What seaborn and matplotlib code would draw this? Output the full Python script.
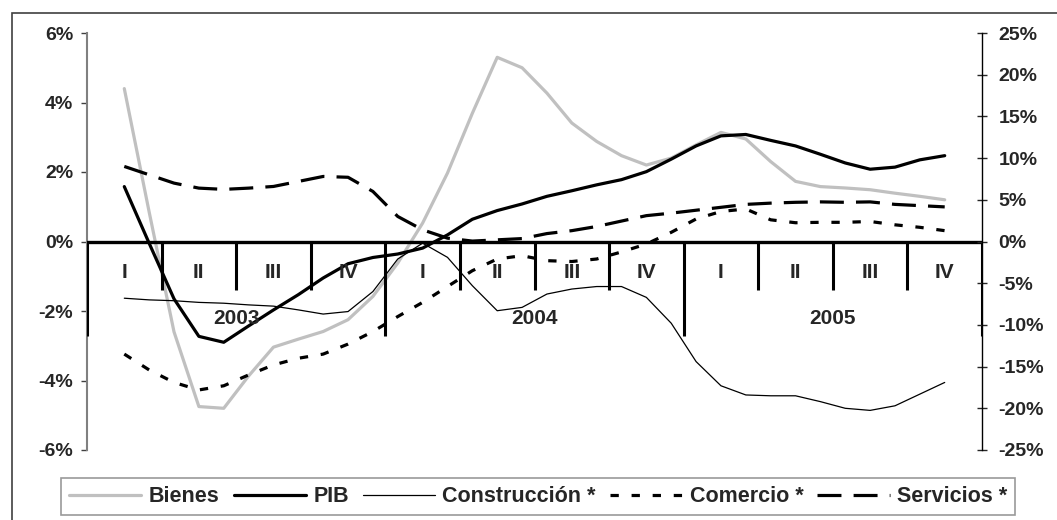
import numpy as np
import pandas as pd
import seaborn as sns
import matplotlib.pyplot as plt
from matplotlib.patches import Rectangle
from matplotlib.ticker import FuncFormatter

sns.set_style("white")
plt.rcParams['font.family'] = ['Liberation Sans', 'DejaVu Sans']
plt.rcParams['font.weight'] = 'bold'

# categories
trimestres = ["I", "II", "III", "IV"] * 3
anios = ["2003", "2004", "2005"]

# monthly values, left axis (%)
bienes = [4.4, 0.85, -2.6, -4.75, -4.8, -3.87, -3.04, -2.81, -2.59, -2.25, -1.58, -0.62,
          0.53, 1.97, 3.69, 5.3, 5.0, 4.27, 3.41, 2.88, 2.47, 2.2, 2.4, 2.78,
          3.14, 2.95, 2.3, 1.73, 1.58, 1.54, 1.49, 1.39, 1.3, 1.2]
pib = [1.58, -0.05, -1.65, -2.73, -2.9, -2.43, -1.97, -1.53, -1.05, -0.64, -0.46, -0.36,
       -0.19, 0.19, 0.64, 0.89, 1.08, 1.3, 1.46, 1.63, 1.78, 2.01, 2.37, 2.75,
       3.04, 3.08, 2.91, 2.75, 2.51, 2.26, 2.08, 2.14, 2.35, 2.47]

# monthly values, right axis (%)
construccion = [-6.8, -7.0, -7.1, -7.3, -7.4, -7.6, -7.75, -8.2, -8.7, -8.4, -6.0, -2.1,
                -0.2, -1.9, -5.3, -8.3, -7.9, -6.3, -5.7, -5.4, -5.4, -6.7, -9.8, -14.4,
                -17.3, -18.4, -18.5, -18.5, -19.2, -20.0, -20.25, -19.7, -18.3, -16.9]
comercio = [-13.5, -15.4, -16.9, -17.8, -17.3, -16.0, -14.8, -14.0, -13.5, -12.3, -10.8, -9.0,
            -7.3, -5.4, -3.5, -2.1, -1.7, -2.3, -2.4, -2.1, -1.25, -0.3, 1.1, 2.7,
            3.6, 3.9, 2.6, 2.25, 2.3, 2.3, 2.4, 2.0, 1.7, 1.3]
servicios = [9.0, 8.0, 7.0, 6.4, 6.25, 6.4, 6.6, 7.2, 7.8, 7.7, 6.0, 3.0,
             1.4, 0.4, 0.05, 0.2, 0.35, 0.95, 1.3, 1.8, 2.45, 3.1, 3.4, 3.75,
             4.1, 4.45, 4.6, 4.7, 4.75, 4.7, 4.75, 4.45, 4.3, 4.15]

df = pd.DataFrame({
    "mes": np.arange(len(bienes)),
    "Bienes": bienes,
    "PIB": pib,
    "Construcción *": construccion,
    "Comercio *": comercio,
    "Servicios *": servicios,
})

W, H = 1057, 520
fig = plt.figure(figsize=(W / 100, H / 100), dpi=100)
ax = fig.add_axes([87 / W, 1 - 450 / H, (982 - 87) / W, (450 - 33) / H])
ax2 = ax.twinx()

# outer frame (only its left and top edges fall inside the picture)
fig.patches.append(Rectangle((11.7 / W, -0.2), 1.2, 1.2 - 13 / H,
                             transform=fig.transFigure, fill=False,
                             edgecolor="#404040", linewidth=1.2))

ax.set_xlim(-1.5, 3 * len(trimestres) - 1.5)
ax.set_ylim(-6, 6)
ax2.set_ylim(-25, 25)

# category axis at zero
ax.axhline(0, color="black", linewidth=2.4, zorder=3)
bordes = np.arange(len(trimestres) + 1) * 3 - 1.5
for k, xb in enumerate(bordes):
    fondo = -2.73 if k % 4 == 0 else -1.39
    ax.vlines(xb, fondo, 0, color="black", linewidth=2.2, zorder=3)
for k, q in enumerate(trimestres):
    ax.text(3 * k, -0.89, q, ha="center", va="center", fontsize=15, fontweight="bold")
for k, a in enumerate(anios):
    ax.text(12 * k + 4.5, -2.23, a, ha="center", va="center", fontsize=15, fontweight="bold")

# series
sns.lineplot(data=df, x="mes", y="Bienes", ax=ax, color="#C0C0C0", linewidth=2.3, label="Bienes")
sns.lineplot(data=df, x="mes", y="PIB", ax=ax, color="black", linewidth=2.3, label="PIB")
sns.lineplot(data=df, x="mes", y="Construcción *", ax=ax2, color="black", linewidth=0.9,
             label="Construcción *")
sns.lineplot(data=df, x="mes", y="Comercio *", ax=ax2, color="black", linewidth=2.3,
             linestyle=(0, (2.6, 4.0)), label="Comercio *")
sns.lineplot(data=df, x="mes", y="Servicios *", ax=ax2, color="black", linewidth=2.3,
             linestyle=(0, (7.5, 3.8)), label="Servicios *")

h1, l1 = ax.get_legend_handles_labels()
h2, l2 = ax2.get_legend_handles_labels()
for a in (ax, ax2):
    if a.get_legend() is not None:
        a.get_legend().remove()

pct = FuncFormatter(lambda v, p: f"{v:.0f}%")
ax.set_yticks(range(-6, 7, 2))
ax.yaxis.set_major_formatter(pct)
ax2.set_yticks(range(-25, 26, 5))
ax2.yaxis.set_major_formatter(pct)
ax.set_xticks([])
ax.set_xlabel("")
ax.set_ylabel("")
ax2.set_ylabel("")
ax.tick_params(axis="y", direction="out", length=4, width=1, pad=6, labelsize=14, color="#404040")
ax2.tick_params(axis="y", direction="inout", length=7, width=1, pad=8.5, labelsize=14)

for s in ["top", "bottom", "right"]:
    ax.spines[s].set_visible(False)
ax.spines["left"].set_color("#808080")
ax.spines["left"].set_linewidth(1.5)
for s in ["top", "bottom", "left"]:
    ax2.spines[s].set_visible(False)
ax2.spines["right"].set_color("black")
ax2.spines["right"].set_linewidth(1.0)

leg = fig.legend(h1 + h2, l1 + l2, loc="upper left", bbox_to_anchor=(61 / W, 1 - 478 / H),
                 ncol=5, frameon=True, fancybox=False, edgecolor="#808080",
                 handlelength=3.35, handletextpad=0.35, columnspacing=0.65,
                 borderpad=0.38, borderaxespad=0, fontsize=15.5)
leg.get_frame().set_linewidth(1.2)

fig.savefig("out.png", dpi=100)
